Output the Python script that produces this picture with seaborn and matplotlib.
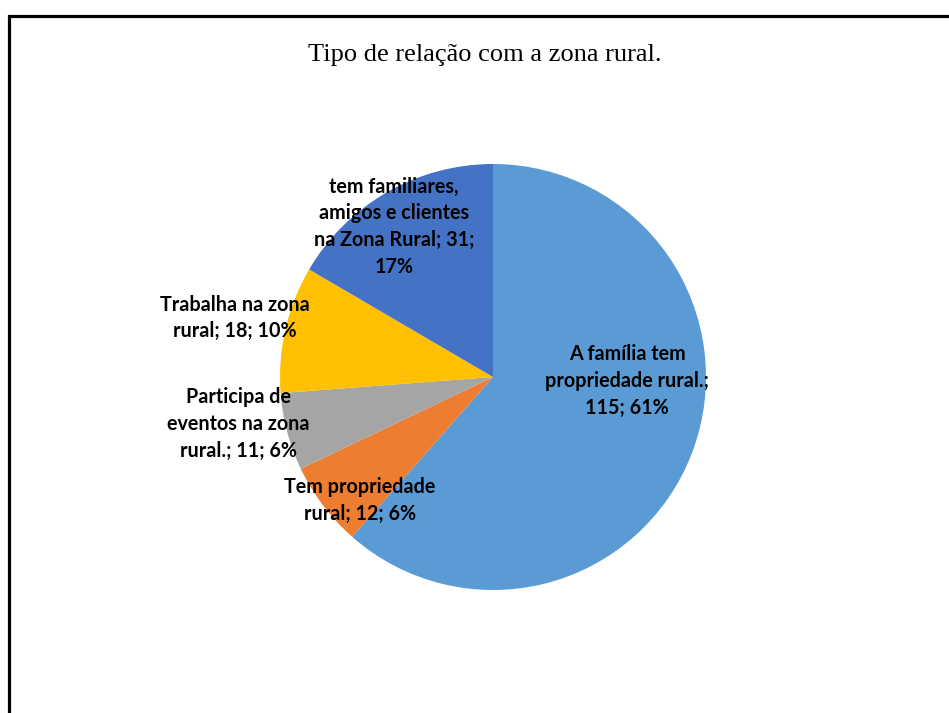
import numpy as np
import pandas as pd
import seaborn as sb
import matplotlib.pyplot as plt
from matplotlib.patches import Rectangle

# data
categories = ['A família tem\npropriedade rural.',
              'Tem propriedade\nrural',
              'Participa de\neventos na zona\nrural.',
              'Trabalha na zona\nrural',
              'tem familiares,\namigos e clientes\nna Zona Rural']
counts = [115, 12, 11, 18, 31]

# layout / style
colors = ['#5B9BD5', '#ED7D31', '#A5A5A5', '#FFC000', '#4472C4']
label_pos = [(0.630, -0.018), (-0.625, -0.578), (-1.197, -0.221),
             (-1.211, 0.277), (-0.465, 0.705)]

sb.set_style('white')

df = pd.DataFrame({'categoria': categories, 'n': counts})
df['pct'] = df['n'] / df['n'].sum() * 100

fig = plt.figure(figsize=(9.49, 7.13), dpi=100)
W, H = 949, 713
cx, cy, r = 493, 377, 213
ax = fig.add_axes([(cx - r) / W, (H - cy - r) / H, 2 * r / W, 2 * r / H])

wedges, _ = ax.pie(df['n'], colors=colors, startangle=90, counterclock=False,
                   wedgeprops={'linewidth': 0})
ax.set_xlim(-1, 1)
ax.set_ylim(-1, 1)

# labels like excel: "name; value; pct%"
def make_label(name, n, p):
    txt = '%s; %d; %d%%' % (name, n, round(p))
    return txt

texts = [
    'A família tem\npropriedade rural.;\n115; 61%',
    None, None, None,
    'tem familiares,\namigos e clientes\nna Zona Rural; 31;\n17%',
]
for i, row in df.iterrows():
    t = texts[i] if texts[i] else make_label(row['categoria'], row['n'], row['pct'])
    x, y = label_pos[i]
    ax.text(x, y, t, ha='center', va='center', fontsize=14.2,
            fontweight='bold', family='Lato', linespacing=1.42, color='black',
            clip_on=False)

fig.text(485 / W, 1 - 55 / H, 'Tipo de relação com a zona rural.',
         ha='center', va='center', fontsize=19, family='Liberation Serif',
         color='black')

# frame around the chart (cut by the image edges)
fig.patches.append(Rectangle((9 / W, -0.1), 1.2, 1 - 16 / H + 0.1,
                             transform=fig.transFigure, fill=False,
                             edgecolor='black', linewidth=2.3, clip_on=False))

fig.savefig('out.png', dpi=100)
